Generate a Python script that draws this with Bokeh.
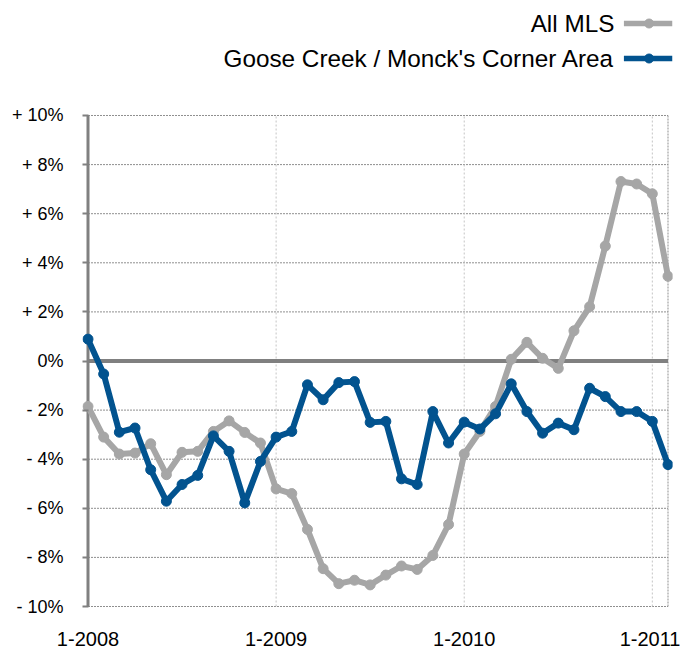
from bokeh.plotting import figure
from bokeh.models import FixedTicker, Range1d
from bokeh.layouts import column
from bokeh.embed import file_html
from bokeh.resources import INLINE
from bokeh.core.properties import value

# ---------------- data ----------------
series_names = ["All MLS", "Goose Creek / Monck's Corner Area"]

all_mls = [-1.85, -3.10, -3.79, -3.75, -3.37, -4.63, -3.72, -3.68, -2.87, -2.44, -2.91, -3.34,
           -5.21, -5.40, -6.86, -8.46, -9.07, -8.93, -9.12, -8.72, -8.35, -8.49, -7.92, -6.66,
           -3.79, -2.87, -1.85, 0.07, 0.76, 0.11, -0.30, 1.23, 2.21, 4.68, 7.31, 7.21, 6.81, 3.45]

goose = [0.89, -0.53, -2.90, -2.73, -4.43, -5.71, -5.03, -4.66, -3.05, -3.68, -5.78, -4.09,
         -3.10, -2.87, -0.97, -1.58, -0.88, -0.84, -2.50, -2.46, -4.80, -5.03, -2.06, -3.34,
         -2.49, -2.77, -2.15, -0.93, -2.06, -2.94, -2.53, -2.80, -1.11, -1.45, -2.06, -2.06, -2.46, -4.22]

month_index = list(range(len(all_mls)))

year_ticks = [0, 12, 24, 36]
year_labels = ["1-2008", "1-2009", "1-2010", "1-2011"]

pct_ticks = [-10, -8, -6, -4, -2, 0, 2, 4, 6, 8, 10]
pct_labels = ["- 10%", "- 8%", "- 6%", "- 4%", "- 2%", "0%", "+ 2%", "+ 4%", "+ 6%", "+ 8%", "+ 10%"]

# ---------------- style ----------------
GRAY = "#a6a6a6"
BLUE = "#02538f"
AXIS = "#808080"
GRID = "#8f8f8f"
VGRID = "#c4c4c4"
FONT = "Liberation Sans"

# ---------------- legend (drawn as its own strip) ----------------
leg = figure(width=680, height=104, x_range=Range1d(0, 680), y_range=Range1d(0, 104),
             toolbar_location=None, output_backend="svg", min_border=0,
             x_axis_location=None, y_axis_location=None, outline_line_color=None)
leg.xgrid.visible = False
leg.ygrid.visible = False
leg_y = [81, 46]
leg_colors = [GRAY, BLUE]
leg.text(x=[613, 613], y=leg_y, text=series_names, text_align="right", text_baseline="middle",
         text_font=value(FONT), text_font_size="24.3px", text_color="#000000")
for yy, col in zip(leg_y, leg_colors):
    leg.line([624, 680], [yy, yy], line_color=col, line_width=5.5)
    leg.scatter([653], [yy], size=9, color=col)

# ---------------- main chart ----------------
x_last = month_index[-1]
p = figure(width=680, height=544,
           x_range=Range1d(-0.351, 37.287), y_range=Range1d(-10.122, 10.122),
           toolbar_location=None, output_backend="svg",
           min_border_left=82, min_border_right=8, min_border_top=8, min_border_bottom=38,
           outline_line_color=None)
p.xgrid.visible = False
p.ygrid.visible = False

h_grid = [t for t in pct_ticks if t != 0]
p.segment(x0=0, y0=h_grid, x1=x_last, y1=h_grid, line_color=GRID, line_width=1, line_dash="2 1")
p.segment(x0=year_ticks[1:], y0=-10, x1=year_ticks[1:], y1=10, line_color=VGRID, line_width=1, line_dash="2 2")
p.segment(x0=[x_last], y0=-10, x1=[x_last], y1=10, line_color=GRID, line_width=1, line_dash="2 1")
p.segment(x0=[0], y0=0, x1=[x_last], y1=0, line_color=AXIS, line_width=4)
p.segment(x0=[0], y0=-10, x1=[0], y1=10, line_color=AXIS, line_width=3)

p.line(month_index, all_mls, line_color=GRAY, line_width=6, line_join="round")
p.scatter(month_index, all_mls, size=10, color=GRAY)
p.line(month_index, goose, line_color=BLUE, line_width=6, line_join="round")
p.scatter(month_index, goose, size=10, color=BLUE)

p.yaxis.ticker = FixedTicker(ticks=pct_ticks)
p.yaxis.major_label_overrides = {t: l for t, l in zip(pct_ticks, pct_labels)}
p.yaxis.axis_line_color = None
p.yaxis.major_tick_in = 6
p.yaxis.major_tick_out = 0
p.yaxis.major_tick_line_color = AXIS
p.yaxis.major_tick_line_width = 2
p.yaxis.minor_tick_line_color = None
p.yaxis.major_label_standoff = 19
p.yaxis.major_label_text_font = FONT
p.yaxis.major_label_text_font_size = "18px"
p.yaxis.major_label_text_color = "#000000"

p.xaxis.ticker = FixedTicker(ticks=year_ticks)
p.xaxis.major_label_overrides = {t: l for t, l in zip(year_ticks, year_labels)}
p.xaxis.axis_line_color = None
p.xaxis.major_tick_line_color = None
p.xaxis.minor_tick_line_color = None
p.xaxis.major_label_standoff = 16
p.xaxis.major_label_text_font = FONT
p.xaxis.major_label_text_font_size = "20px"
p.xaxis.major_label_text_color = "#000000"

layout = column(leg, p, spacing=0)
open("out.html", "w").write(file_html(layout, INLINE))
